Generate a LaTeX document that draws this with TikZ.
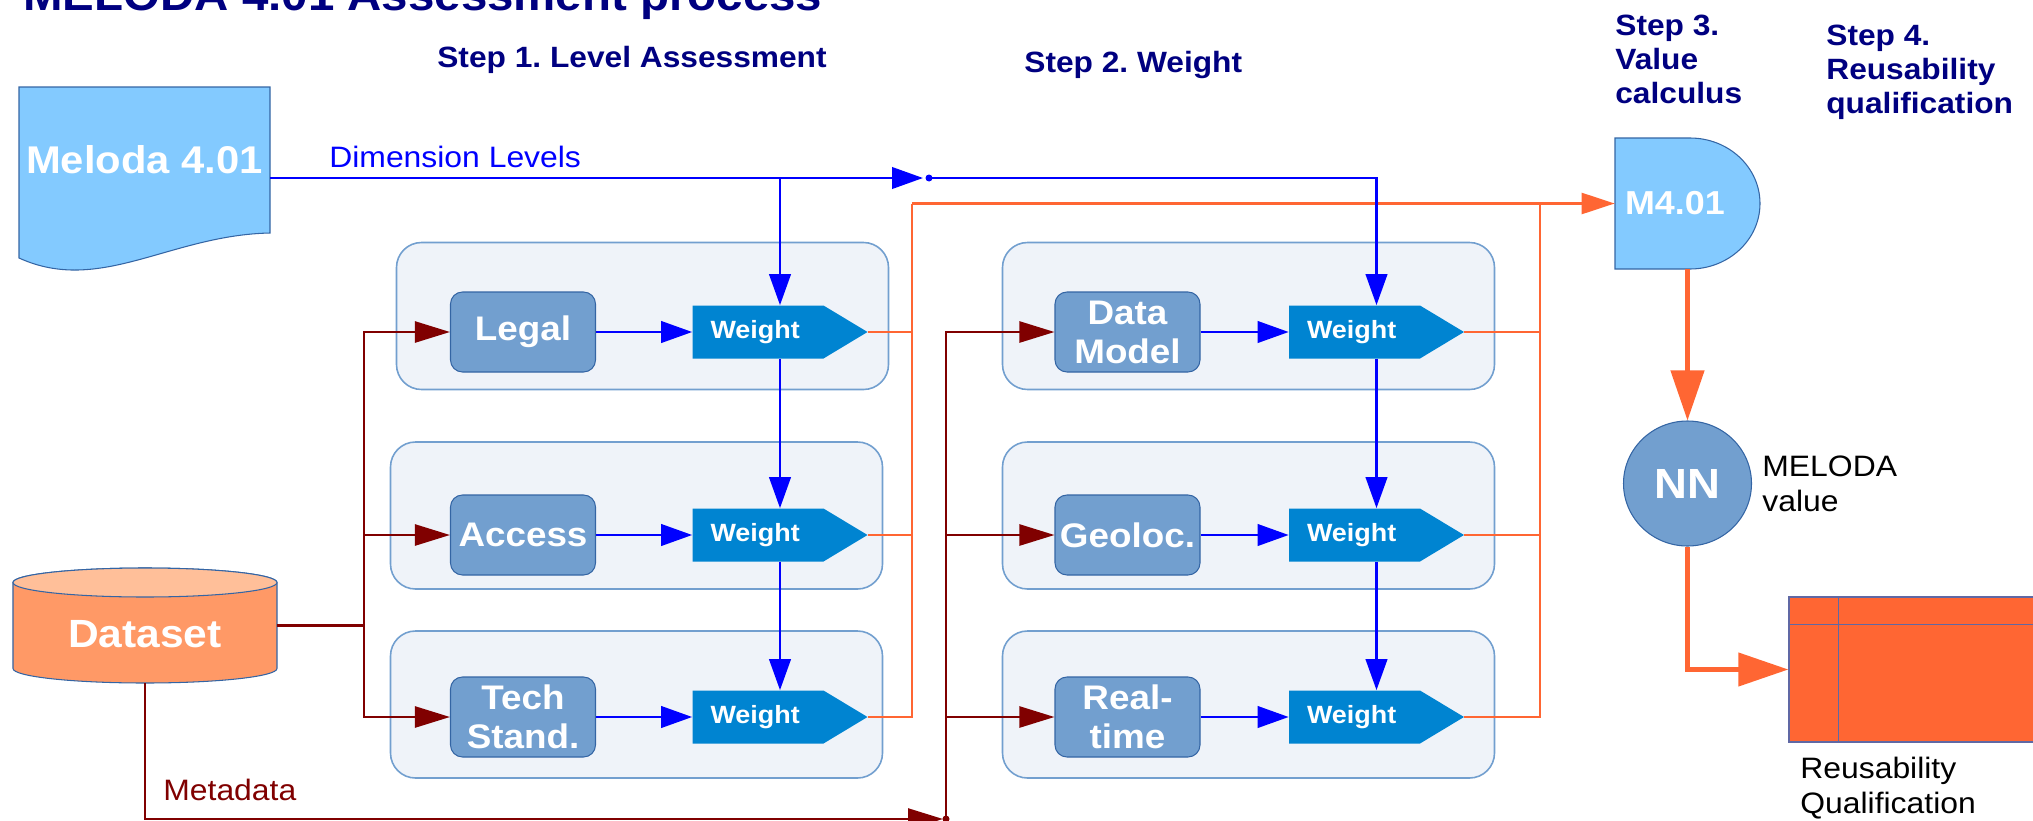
\documentclass[tikz,border=0pt]{standalone}
\usepackage{fontspec}
\setmainfont{Liberation Sans}[FakeStretch=1.08]
\frenchspacing
\usetikzlibrary{positioning, arrows.meta, shapes.geometric}
\definecolor{MelNavy}{RGB}{0, 0, 128}
\definecolor{MelBlue}{RGB}{0, 0, 255}
\definecolor{MelRed}{RGB}{128, 0, 0}
\definecolor{MelOrange}{RGB}{255, 102, 51}
\definecolor{DocBlue}{RGB}{131, 202, 255}
\definecolor{EdgeBlue}{RGB}{52, 101, 164}
\definecolor{DimBlue}{RGB}{114, 159, 207}
\definecolor{WeightBlue}{RGB}{0, 132, 209}
\definecolor{GroupFill}{RGB}{239, 243, 249}
\definecolor{DataOrange}{RGB}{255, 153, 102}
\definecolor{DataTop}{RGB}{255, 191, 153}
\definecolor{TableLine}{RGB}{96, 104, 164}

\begin{document}
\begin{tikzpicture}[
        grp/.style={rectangle, draw=DimBlue, line width=0.9pt, fill=GroupFill, rounded corners=0.5cm, minimum width=9.84cm, minimum height=2.94cm},
        dim/.style={
          rectangle,
          draw=EdgeBlue,
          line width=0.6pt,
          fill=DimBlue,
          rounded corners=0.24cm,
          minimum width=2.9cm,
          minimum height=1.6cm,
          inner sep=0pt,
          align=center,
          text=white,
          font=\fontsize{19.4pt}{22.2pt}\selectfont\bfseries
        },
        wgt/.style={
          rectangle,
          minimum width=3.5cm,
          minimum height=1.06cm,
          inner xsep=0.36cm,
          inner ysep=0pt,
          text width=2.78cm,
          align=left,
          text=white,
          font=\fontsize{14.2pt}{17pt}\selectfont\bfseries,
          path picture={\fill[WeightBlue] (path picture bounding box.south west) -- (path picture bounding box.north west) -- ([xshift=-0.88cm]path picture bounding box.north east) -- (path picture bounding box.east) -- ([xshift=-0.88cm]path picture bounding box.south east) -- cycle;}
        },
        steplbl/.style={inner sep=0pt, align=left, text=MelNavy, font=\fontsize{16.7pt}{19.3pt}\selectfont\bfseries},
        lbl/.style={inner sep=0pt, align=left, font=\fontsize{16.8pt}{19.8pt}\selectfont},
        bline/.style={draw=MelBlue, line width=1.4pt, -{Triangle[length=0.62cm, width=0.43cm]}},
        barr/.style={bline},
        rline/.style={draw=MelRed, line width=1.4pt},
        rarr/.style={rline, -{Triangle[length=0.7cm, width=0.42cm]}},
        oline/.style={draw=MelOrange, line width=1.4pt},
        oarr/.style={oline, -{Triangle[length=0.66cm, width=0.42cm]}},
        bigarr/.style={draw=MelOrange, line width=2.5pt, -{Triangle[length=1cm, width=0.66cm]}}
      ]
        \useasboundingbox (0, 0) rectangle (40.66, -16.42);

        \node (grpl1) at (12.85, -6.32)  [grp] {};
        \node (grpl2) at (12.73, -10.31) [grp] {};
        \node (grpl3) at (12.73, -14.09) [grp] {};
        \node (grpr1) at (24.97, -6.32)  [grp] {};
        \node (grpr2) at (24.97, -10.31) [grp] {};
        \node (grpr3) at (24.97, -14.09) [grp] {};

        \filldraw[fill=DocBlue, draw=EdgeBlue, line width=0.6pt] (0.38, -1.74) -- (5.40, -1.74) -- (5.40, -4.66) .. controls (3.40, -4.70) and (2.00, -5.90) .. (0.38, -5.16) -- cycle;
        \filldraw[fill=DataOrange, draw=EdgeBlue, line width=0.6pt] (0.26, -11.65) -- (0.26, -13.37) arc[start angle=180, end angle=360, x radius=2.64, y radius=0.29] -- (5.54, -11.65) arc[start angle=0, end angle=180, x radius=2.64, y radius=0.29] -- cycle;
        \filldraw[fill=DataTop, draw=EdgeBlue, line width=0.6pt] (2.9, -11.65) ellipse [x radius=2.64, y radius=0.29];
        \filldraw[fill=DocBlue, draw=EdgeBlue, line width=0.6pt] (32.3, -5.38) -- (32.3, -2.76) -- (33.8, -2.76) arc[start angle=90, end angle=-90, x radius=1.4, y radius=1.31] -- cycle;

        \node (title) at (0.46, -0.2) [anchor=base west, inner sep=0pt, text=MelNavy, font=\fontsize{25pt}{30pt}\selectfont\bfseries] {MELODA 4.01 Assessment process};
        \node (step1) at (8.74, -1.34)  [steplbl, anchor=base west] {Step 1. Level Assessment};
        \node (step2) at (20.48, -1.44) [steplbl, anchor=base west] {Step 2. Weight};
        \node (step3) at (32.3, -0.3)   [steplbl, anchor=north west] {Step 3.\\Value\\calculus};
        \node (step4) at (36.52, -0.5)  [steplbl, anchor=north west] {Step 4.\\Reusability\\qualification};

        \node (meloda) at (2.89, -3.56) [minimum width=5.02cm, inner sep=0pt, text height=1.73cm, text depth=1.91cm, text=white, font=\fontsize{22pt}{26pt}\selectfont\bfseries] {Meloda 4.01};
        \node (dataset) at (2.9, -12.51) [minimum width=5.28cm, minimum height=2.3cm, inner sep=0pt, text height=0.87cm, text depth=0pt, text=white, font=\fontsize{22.4pt}{26pt}\selectfont\bfseries] {Dataset};
        \node (dimlbl) at (6.58, -3.34) [lbl, anchor=base west, text=MelBlue] {Dimension Levels};
        \node (metalbl) at (3.26, -16.0) [lbl, anchor=base west, text=MelRed] {Metadata};

        \node (legal)    at (10.46, -6.64)  [dim] {Legal};
        \node (access)   at (10.46, -10.70) [dim] {Access};
        \node (tech)     at (10.46, -14.34) [dim] {Tech\\Stand.};
        \node (dmodel)   at (22.55, -6.64)  [dim] {Data\\Model};
        \node (geoloc)   at (22.55, -10.70) [dim] {Geoloc.};
        \node (realtime) at (22.55, -14.34) [dim] {Real-\\time};

        \node (w1) at (15.6, -6.64)   [wgt] {Weight};
        \node (w2) at (15.6, -10.70)  [wgt] {Weight};
        \node (w3) at (15.6, -14.34)  [wgt] {Weight};
        \node (w4) at (27.53, -6.64)  [wgt] {Weight};
        \node (w5) at (27.53, -10.70) [wgt] {Weight};
        \node (w6) at (27.53, -14.34) [wgt] {Weight};

        \node (m401) at (33.75, -4.07) [minimum width=2.9cm, minimum height=2.62cm, inner xsep=0.2cm, inner ysep=0pt, text width=2.5cm, align=left, text=white, font=\fontsize{18.9pt}{22pt}\selectfont\bfseries] {M4.01};
        \node (nn) at (33.75, -9.67) [ellipse, draw=EdgeBlue, line width=0.6pt, fill=DimBlue, minimum width=2.56cm, minimum height=2.5cm, inner sep=0pt, text=white, font=\fontsize{24pt}{28pt}\selectfont\bfseries] {NN};
        \node (nnlbl) [right=0.2cm of nn, lbl] {MELODA\\value};
        \node (tbl) at (38.99, -13.39) [rectangle, draw=TableLine, line width=0.8pt, fill=MelOrange, minimum width=6.42cm, minimum height=2.9cm] {};
        \draw[TableLine, line width=0.8pt] ([xshift=1cm]tbl.north west) -- ([xshift=1cm]tbl.south west);
        \draw[TableLine, line width=0.8pt] ([yshift=-0.56cm]tbl.north west) -- ([yshift=-0.56cm]tbl.north east);
        \node (rqlbl) at (36.0, -15.14) [lbl, anchor=north west] {Reusability\\Qualification};

        \coordinate (jn) at (18.58, -3.56);
        \coordinate (jm) at (18.92, -16.38);
        \coordinate (lbus) at (7.28, -12.51);
        \coordinate (obusl) at (18.24, -4.07);
        \coordinate (obusr) at (30.8, -4.07);

        \draw[oline] (w1) -| (obusl);
        \draw[oline] (w2) -| (obusl);
        \draw[oline] (w3) -| (obusl);
        \draw[oline] (w4) -| (obusr);
        \draw[oline] (w5) -| (obusr);
        \draw[oline] (w6) -| (obusr);
        \draw[oarr] (obusl) -- (m401);

        \draw[bline, shorten >=0.12cm] (meloda) -- (jn);
        \fill[MelBlue] (jn) circle (0.07cm);
        \draw[barr] (jn) -| (w4);
        \draw[barr] (w1.north |- meloda.east) -- (w1);
        \draw[barr] (w1) -- (w2);
        \draw[barr] (w2) -- (w3);
        \draw[barr] (w4) -- (w5);
        \draw[barr] (w5) -- (w6);
        \draw[barr] (legal) -- (w1);
        \draw[barr] (access) -- (w2);
        \draw[barr] (tech) -- (w3);
        \draw[barr] (dmodel) -- (w4);
        \draw[barr] (geoloc) -- (w5);
        \draw[barr] (realtime) -- (w6);

        \draw[rline] (dataset) -- (lbus);
        \draw[rarr] (lbus) |- (legal);
        \draw[rarr] (lbus) |- (access);
        \draw[rarr] (lbus) |- (tech);
        \draw[rarr, shorten >=0.06cm] (dataset) |- (jm);
        \fill[MelRed] (jm) circle (0.07cm);
        \draw[rarr] (jm) |- (dmodel);
        \draw[rarr] (jm) |- (geoloc);
        \draw[rarr] (jm) |- (realtime);

        \draw[bigarr] (m401) -- (nn);
        \draw[bigarr] (nn) |- (tbl);
      \end{tikzpicture}
\end{document}
